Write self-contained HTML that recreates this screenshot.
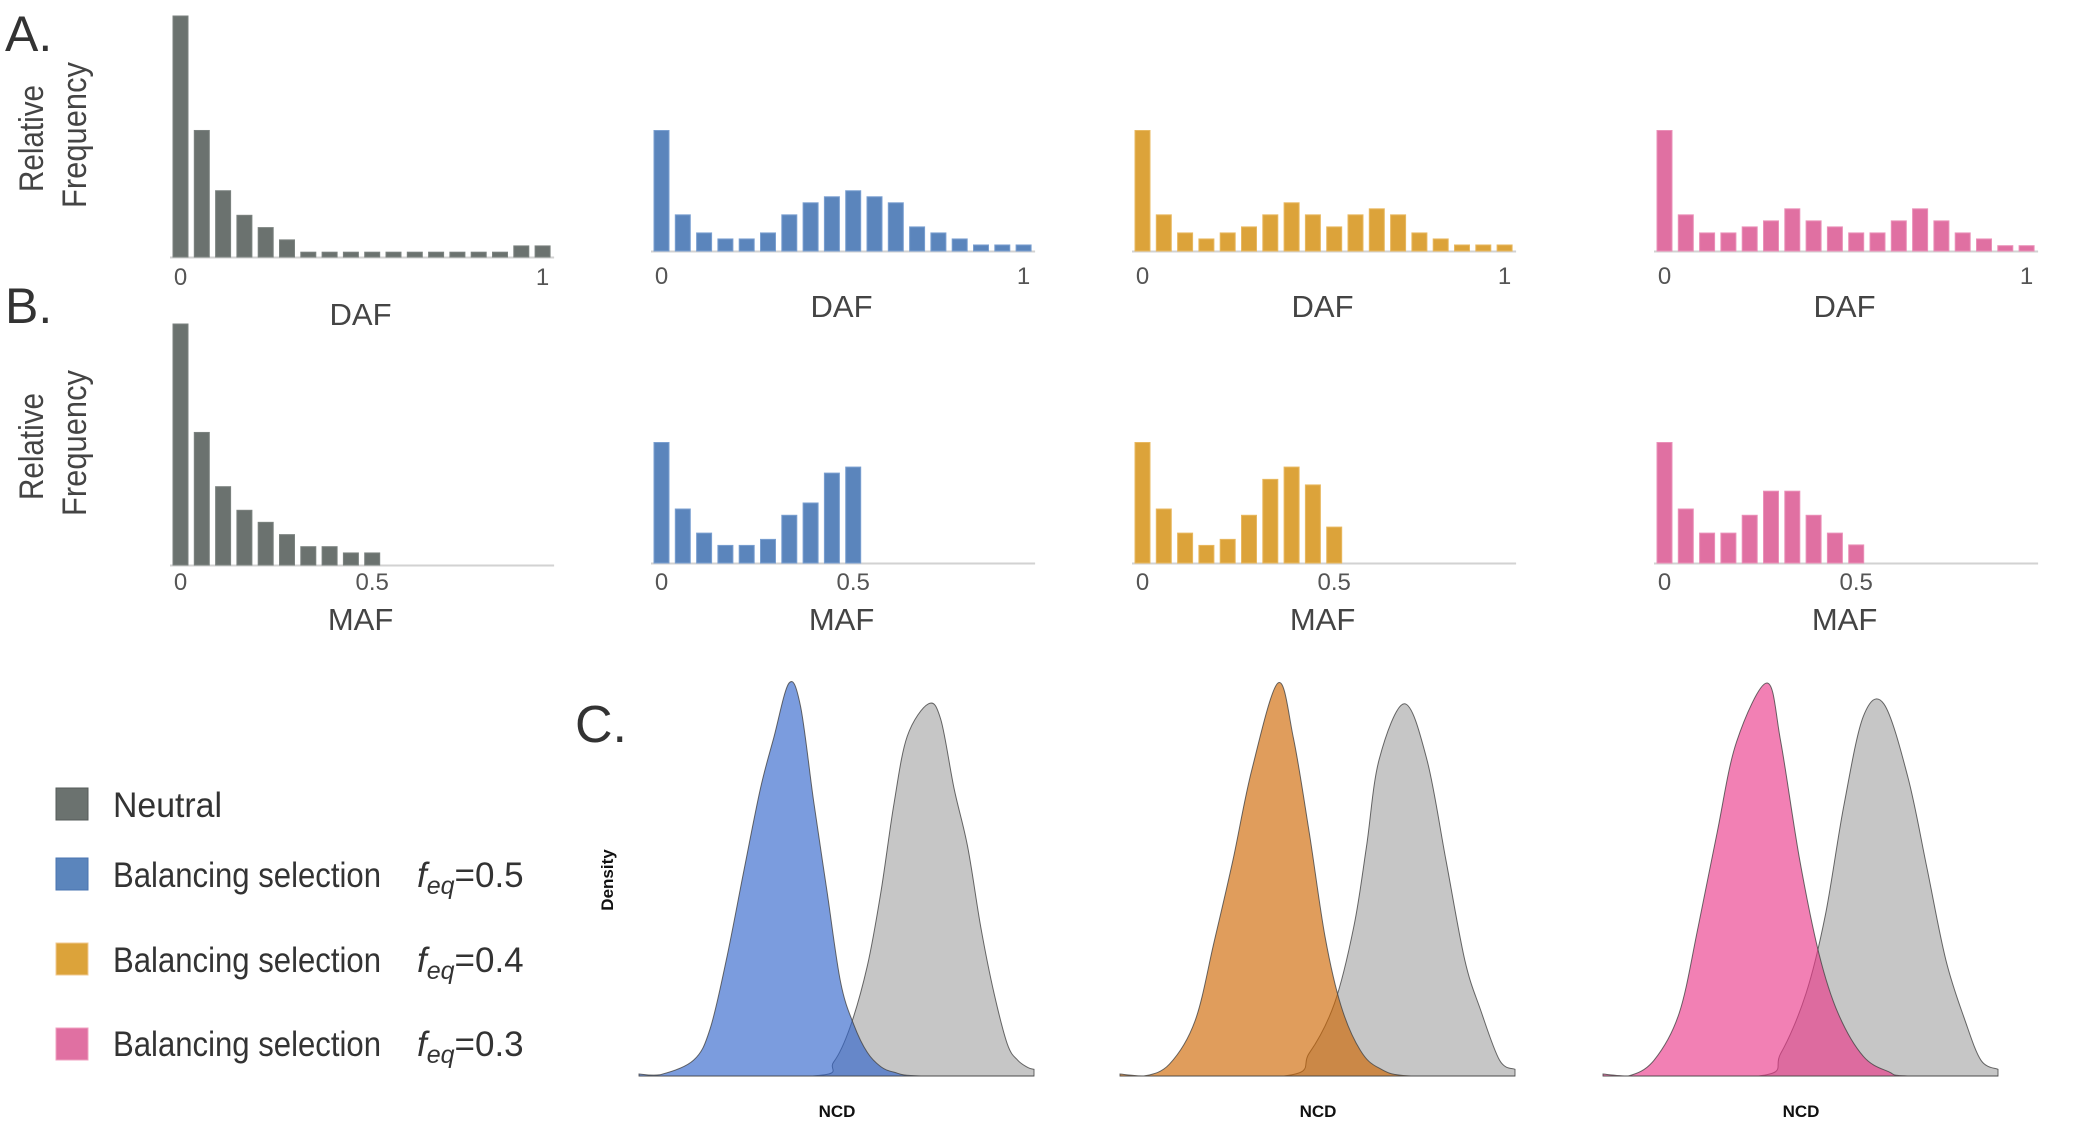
<!DOCTYPE html>
<html><head><meta charset="utf-8"><style>
html,body{margin:0;padding:0;background:#fff;}
svg{display:block;font-family:"Liberation Sans",sans-serif;}
.t{fill:#333;}
</style></head><body>
<svg id="fig" width="2075" height="1129" viewBox="0 0 2075 1129" xmlns="http://www.w3.org/2000/svg">
<text x="5" y="51" font-size="50" class="t">A.</text>
<text x="5" y="323" font-size="50" class="t">B.</text>
<text x="575" y="742" font-size="52" class="t">C.</text>
<g>
<text transform="translate(43,192) rotate(-90)" font-size="34" textLength="107" lengthAdjust="spacingAndGlyphs" fill="#444">Relative</text>
<text transform="translate(86,208) rotate(-90)" font-size="34" textLength="146" lengthAdjust="spacingAndGlyphs" fill="#444">Frequency</text>
</g>
<g>
<text transform="translate(43,500) rotate(-90)" font-size="34" textLength="107" lengthAdjust="spacingAndGlyphs" fill="#444">Relative</text>
<text transform="translate(86,516) rotate(-90)" font-size="34" textLength="146" lengthAdjust="spacingAndGlyphs" fill="#444">Frequency</text>
</g>
<g id="bars"></g>
<g id="dens"></g>
<g>
<rect x="56" y="788" width="32" height="32" fill="#6b726f" stroke="#555b58" stroke-width="1"/>
<text x="113" y="817" font-size="35" class="t" textLength="109" lengthAdjust="spacingAndGlyphs">Neutral</text>
<rect x="56" y="858" width="32" height="32" fill="#5b85bc" stroke="#4a74b0" stroke-width="1"/>
<text x="113" y="887" font-size="35" class="t" textLength="268" lengthAdjust="spacingAndGlyphs">Balancing selection</text>
<text x="417" y="887" font-size="35" class="t"><tspan font-style="italic">f</tspan><tspan font-style="italic" font-size="25" dy="7">eq</tspan><tspan dy="-7">=0.5</tspan></text>
<rect x="56" y="943" width="32" height="32" fill="#dca33a" stroke="#f0c890" stroke-width="1"/>
<text x="113" y="972" font-size="35" class="t" textLength="268" lengthAdjust="spacingAndGlyphs">Balancing selection</text>
<text x="417" y="972" font-size="35" class="t"><tspan font-style="italic">f</tspan><tspan font-style="italic" font-size="25" dy="7">eq</tspan><tspan dy="-7">=0.4</tspan></text>
<rect x="56" y="1028" width="32" height="32" fill="#e070a2" stroke="#f0a0c0" stroke-width="1"/>
<text x="113" y="1056" font-size="35" class="t" textLength="268" lengthAdjust="spacingAndGlyphs">Balancing selection</text>
<text x="417" y="1056" font-size="35" class="t"><tspan font-style="italic">f</tspan><tspan font-style="italic" font-size="25" dy="7">eq</tspan><tspan dy="-7">=0.3</tspan></text>
</g>
<text transform="translate(613,880) rotate(-90)" font-size="17" font-weight="bold" text-anchor="middle" fill="#111">Density</text>
</svg>
<script>
// Histogram data (relative frequency)
const dafNeutral = [1.0,0.525,0.275,0.173,0.122,0.071,0.02,0.02,0.02,0.02,0.02,0.02,0.02,0.02,0.02,0.02,0.046,0.046];
const dafBal05 = [0.5,0.15,0.075,0.05,0.05,0.075,0.15,0.2,0.225,0.25,0.225,0.2,0.1,0.075,0.05,0.025,0.025,0.025];
const dafBal04 = [0.5,0.15,0.075,0.05,0.075,0.1,0.15,0.2,0.15,0.1,0.15,0.175,0.15,0.075,0.05,0.025,0.025,0.025];
const dafBal03 = [0.5,0.15,0.075,0.075,0.1,0.125,0.175,0.125,0.1,0.075,0.075,0.125,0.175,0.125,0.075,0.05,0.022,0.022];
const mafNeutral = [1.0,0.55,0.325,0.227,0.177,0.126,0.076,0.076,0.05,0.05];
const mafBal05 = [0.5,0.224,0.124,0.073,0.073,0.098,0.198,0.249,0.373,0.398];
const mafBal04 = [0.5,0.224,0.124,0.073,0.098,0.198,0.347,0.398,0.324,0.149];
const mafBal03 = [0.5,0.224,0.124,0.124,0.198,0.298,0.298,0.198,0.124,0.075];
const dafTicks = ["0","1"];
const mafTicks = ["0","0.5"];
// Density data: NCD (fraction of axis) and density
const ncdBlue = [0,0.053,0.138,0.18,0.222,0.265,0.307,0.341,0.38,0.409,0.442,0.476,0.51,0.544,0.578,0.612,0.645,0.713,1];
const denBlue = [0.005,0.003,0.04,0.12,0.3,0.52,0.73,0.86,1.0,0.94,0.70,0.47,0.24,0.13,0.06,0.024,0.01,0,0];
const ncdGray1 = [0,0.44,0.493,0.535,0.578,0.612,0.645,0.679,0.733,0.764,0.798,0.832,0.865,0.899,0.933,0.959,0.984,1];
const denGray1 = [0,0,0.036,0.126,0.28,0.465,0.69,0.864,0.947,0.907,0.73,0.584,0.38,0.21,0.08,0.04,0.022,0.017];
const ncdOrange = [0,0.06,0.125,0.19,0.238,0.286,0.334,0.40,0.439,0.479,0.519,0.56,0.608,0.656,0.736,1];
const denOrange = [0.005,0,0.03,0.14,0.34,0.55,0.78,1.0,0.86,0.62,0.355,0.177,0.066,0.02,0,0];
const ncdGray2 = [0,0.415,0.479,0.543,0.592,0.624,0.656,0.72,0.777,0.825,0.873,0.913,0.961,1];
const denGray2 = [0,0,0.058,0.185,0.38,0.584,0.805,0.947,0.805,0.55,0.295,0.168,0.04,0.017];
const ncdPink = [0,0.064,0.129,0.193,0.241,0.289,0.338,0.415,0.45,0.498,0.547,0.595,0.659,0.723,0.772,1];
const denPink = [0.005,0,0.04,0.16,0.38,0.62,0.85,1.0,0.85,0.55,0.31,0.16,0.05,0.011,0,0];
const ncdGray3 = [0,0.394,0.45,0.514,0.563,0.61,0.659,0.711,0.772,0.82,0.868,0.916,0.957,1];
const denGray3 = [0,0,0.058,0.21,0.41,0.69,0.915,0.947,0.76,0.53,0.295,0.143,0.04,0.017];

const NS='http://www.w3.org/2000/svg';
const barsG=document.getElementById('bars');
const densG=document.getElementById('dens');
const SLOT=21.3, BW=15, HSCALE=241;
function mk(tag,attrs,parent){const e=document.createElementNS(NS,tag);for(const k in attrs)e.setAttribute(k,attrs[k]);parent.appendChild(e);return e;}

function hist(vals,left,base,axisEnd,color,stroke,ticks,tickIdx,title,titleX,titleY,tickY,name){
  const g=mk('g',{},barsG);
  
  
  const xs=i=>left+i*SLOT;
  const ys=v=>base-v*HSCALE;
  const ax=mk('line',{x1:left-3,x2:axisEnd,y1:base+0.5,y2:base+0.5,stroke:'#d2d2d2','stroke-width':2},g);
  
  
  vals.forEach((v,i)=>{
    const r=mk('rect',{x:xs(i),y:ys(v),width:BW,height:base-ys(v),fill:color,stroke:stroke,'stroke-width':1},g);
    
    
  });
  ticks.forEach((t,k)=>{
    const tx=mk('text',{x:xs(tickIdx[k])+BW/2,y:tickY,'font-size':24,'text-anchor':'middle',fill:'#555'},g);
    tx.textContent=t;
    
    
  });
  const tt=mk('text',{x:titleX,y:titleY,'font-size':31,'text-anchor':'middle',fill:'#444'},g);
  tt.textContent=title;
  
  
}
const lefts=[173,654,1135,1657];
const colors=['#6b726f','#5b85bc','#dca33a','#e070a2'];
const strokes=['#7b827f','#7a9fd0','#e8b860','#ea90b8'];
const dafs=[dafNeutral,dafBal05,dafBal04,dafBal03];
const mafs=[mafNeutral,mafBal05,mafBal04,mafBal03];
const names=['neutral','bal-05','bal-04','bal-03'];
for(let c=0;c<4;c++){
  const L=lefts[c], aEnd=L+17*SLOT+BW+4;
  const baseA = c===0?257:251, baseB = c===0?565:563;
  hist(dafs[c],L,baseA,aEnd,colors[c],strokes[c],dafTicks,[0,dafs[c].length-1],'DAF',L+(aEnd-L)/2-3,c===0?325:317,c===0?285:284,'daf-histogram-'+names[c]);
  hist(mafs[c],L,baseB,aEnd,colors[c],strokes[c],mafTicks,[0,9],'MAF',L+(aEnd-L)/2-3,630,590,'maf-histogram-'+names[c]);
}

function smoothPath(pts){
  let d='M'+pts[0][0]+','+pts[0][1];
  for(let i=0;i<pts.length-1;i++){
    const p0=pts[Math.max(0,i-1)],p1=pts[i],p2=pts[i+1],p3=pts[Math.min(pts.length-1,i+2)];
    const c1x=p1[0]+(p2[0]-p0[0])/6,c1y=p1[1]+(p2[1]-p0[1])/6;
    const c2x=p2[0]-(p3[0]-p1[0])/6,c2y=p2[1]-(p3[1]-p1[1])/6;
    d+=' C'+c1x.toFixed(1)+','+Math.min(c1y,BASEC).toFixed(1)+' '+c2x.toFixed(1)+','+Math.min(c2y,BASEC).toFixed(1)+' '+p2[0].toFixed(1)+','+p2[1].toFixed(1);
  }
  return d;
}
const BASEC=1076, DH=393, DW=395;
function density(left,xsArr,ysArr,fill,opacity,name,g){
  const sx=v=>left+v*DW, sy=v=>BASEC-v*DH;
  const pts=xsArr.map((x,i)=>[sx(x),sy(ysArr[i])]);
  let d=smoothPath(pts)+' L'+sx(xsArr[xsArr.length-1])+','+BASEC+' L'+sx(xsArr[0])+','+BASEC+' Z';
  const p=mk('path',{d:d,fill:fill,'fill-opacity':opacity,stroke:'#444','stroke-width':1,'stroke-opacity':0.8},g);
  
  
}
const dLefts=[639,1120,1603];
const selX=[ncdBlue,ncdOrange,ncdPink], selY=[denBlue,denOrange,denPink];
const grX=[ncdGray1,ncdGray2,ncdGray3], grY=[denGray1,denGray2,denGray3];
const selC=['rgb(49,100,203)','rgb(206,102,0)','rgb(235,57,138)'];
const dn=['bal-05','bal-04','bal-03'];
const ncdCx=[837,1318,1801];
for(let c=0;c<3;c++){
  const g=mk('g',{},densG);
  
  
  density(dLefts[c],grX[c],grY[c],'#c6c6c6',1,'density-neutral',g);
  density(dLefts[c],selX[c],selY[c],selC[c],0.64,'density-'+dn[c],g);
  const t=mk('text',{x:ncdCx[c],y:1117,'font-size':17,'font-weight':'bold','text-anchor':'middle',fill:'#111'},g);
  t.textContent='NCD';
  
  
}
</script>
</body></html>
